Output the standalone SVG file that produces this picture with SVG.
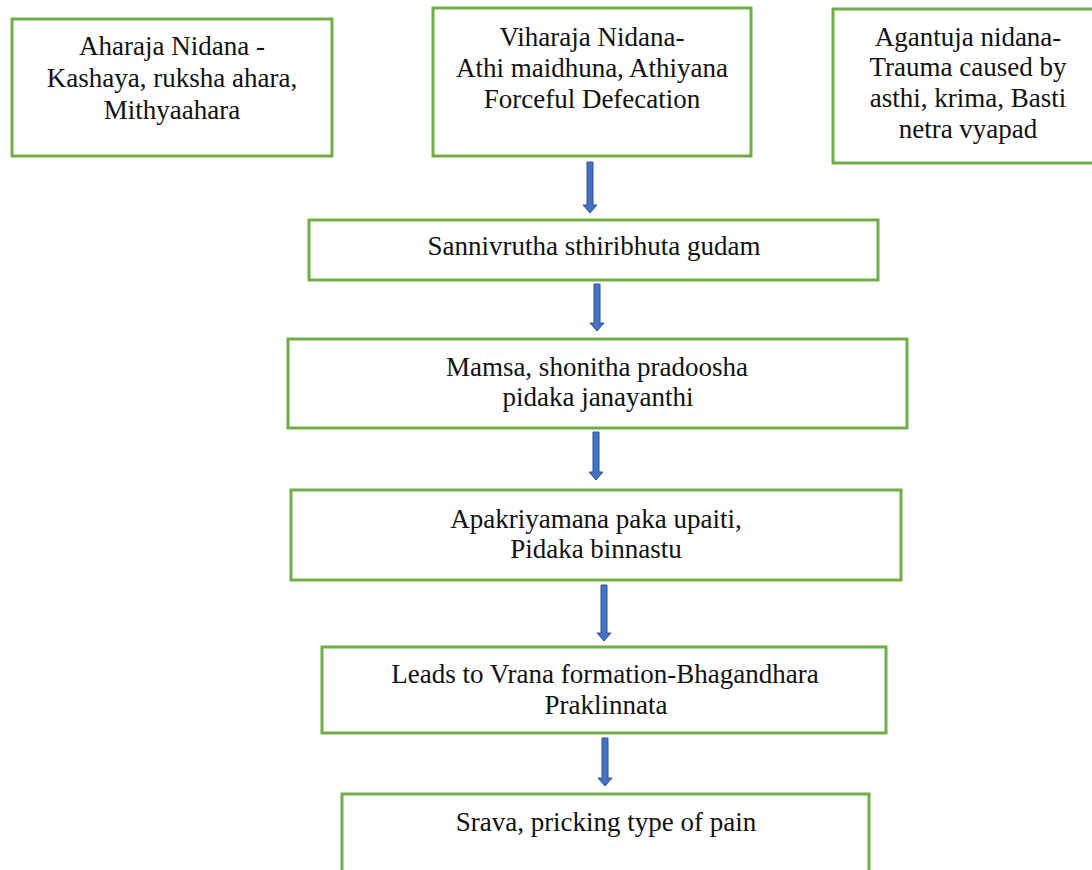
<svg xmlns="http://www.w3.org/2000/svg" width="1092" height="870" viewBox="0 0 1092 870">
<style>
.box{fill:#fff;stroke:#70AD47;stroke-width:3}
.t{font-size:27px;fill:#111;text-anchor:middle}
.arr{fill:#4472C4;stroke:#2F528F;stroke-width:1}
</style>
<rect width="1092" height="870" fill="#fff"/>
<g id="aharaja">
<rect class="box" x="12" y="19" width="320" height="137"/>
<text class="t" font-family="Liberation Serif" x="172" y="55">Aharaja Nidana -</text>
<text class="t" font-family="Liberation Serif" x="172" y="87">Kashaya, ruksha ahara,</text>
<text class="t" font-family="Liberation Serif" x="172" y="119">Mithyaahara</text>
</g>
<g id="viharaja">
<rect class="box" x="433" y="8" width="318" height="148"/>
<text class="t" font-family="Liberation Serif" x="592" y="46">Viharaja Nidana-</text>
<text class="t" font-family="Liberation Serif" x="592" y="77">Athi maidhuna, Athiyana</text>
<text class="t" font-family="Liberation Serif" x="592" y="108">Forceful Defecation</text>
</g>
<g id="agantuja">
<rect class="box" x="833" y="9" width="270" height="154"/>
<text class="t" font-family="Liberation Serif" x="968" y="46">Agantuja nidana-</text>
<text class="t" font-family="Liberation Serif" x="968" y="76">Trauma caused by</text>
<text class="t" font-family="Liberation Serif" x="968" y="107">asthi, krima, Basti</text>
<text class="t" font-family="Liberation Serif" x="968" y="138">netra vyapad</text>
</g>
<g id="sannivrutha">
<rect class="box" x="309" y="220" width="569" height="60"/>
<text class="t" font-family="Liberation Serif" x="594" y="255">Sannivrutha sthiribhuta gudam</text>
</g>
<g id="mamsa">
<rect class="box" x="288" y="339" width="619" height="89"/>
<text class="t" font-family="Liberation Serif" x="597" y="376">Mamsa, shonitha pradoosha</text>
<text class="t" font-family="Liberation Serif" x="598" y="406">pidaka janayanthi</text>
</g>
<g id="apakriyamana">
<rect class="box" x="291" y="490" width="610" height="90"/>
<text class="t" font-family="Liberation Serif" x="596" y="528">Apakriyamana paka upaiti,</text>
<text class="t" font-family="Liberation Serif" x="596" y="558">Pidaka binnastu</text>
</g>
<g id="vrana">
<rect class="box" x="322" y="647" width="564" height="86"/>
<text class="t" font-family="Liberation Serif" x="605" y="683">Leads to Vrana formation-Bhagandhara</text>
<text class="t" font-family="Liberation Serif" x="606" y="714">Praklinnata</text>
</g>
<g id="srava">
<rect class="box" x="342" y="794" width="527" height="90"/>
<text class="t" font-family="Liberation Serif" x="606" y="831">Srava, pricking type of pain</text>
</g>
<g id="connectors">
<path class="arr" d="M587 162H593V205H597L590 213L583 205H587Z"/>
<path class="arr" d="M594 284H600V323H604L597 331L590 323H594Z"/>
<path class="arr" d="M593 432H599V472H603L596 480L589 472H593Z"/>
<path class="arr" d="M601 585H607V633H611L604 641L597 633H601Z"/>
<path class="arr" d="M602 738H608V778H612L605 786L598 778H602Z"/>
</g>
</svg>
